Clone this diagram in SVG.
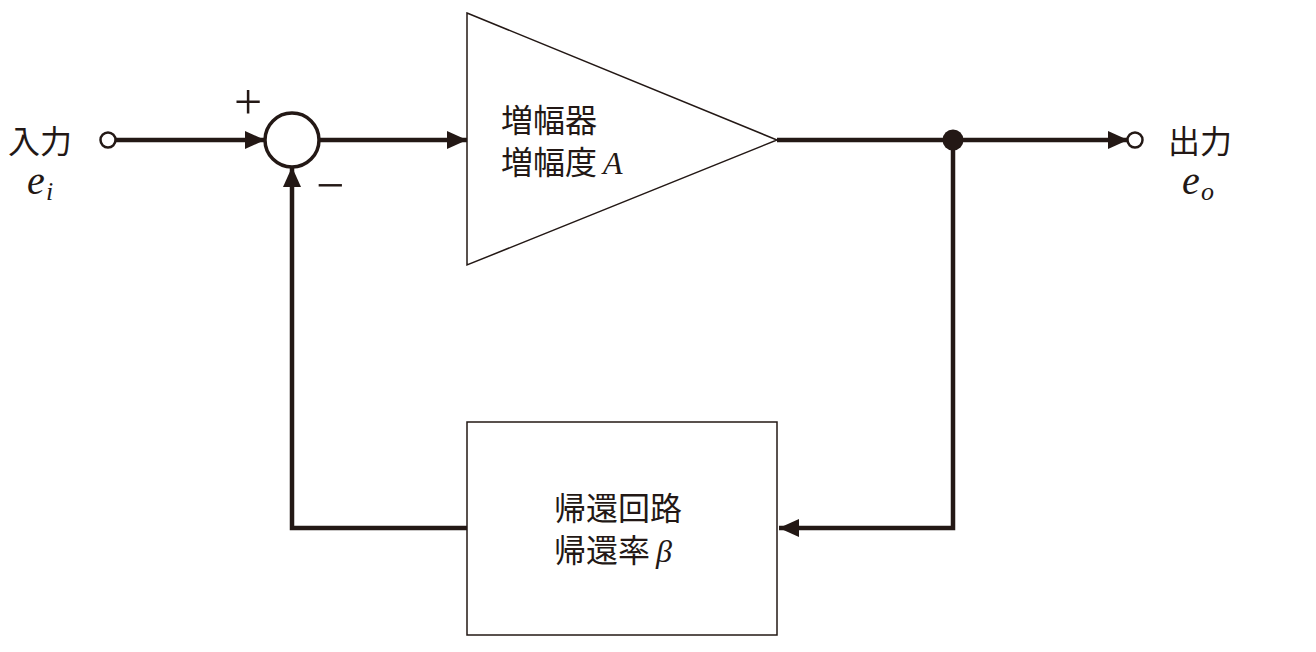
<svg xmlns="http://www.w3.org/2000/svg" width="1316" height="652" viewBox="0 0 1316 652">
<style>
.w{stroke:#231815;stroke-width:4.5;fill:none}
.thin{stroke:#231815;stroke-width:1.5;fill:#fff}
.t{font-family:"Liberation Serif","Noto Sans CJK JP",serif;font-size:32px;fill:#231815}
.m{font-family:"Liberation Serif",serif;font-style:italic;fill:#231815}
.s{font-family:"Liberation Serif",serif;font-size:50px;fill:#231815}
</style>
<defs>
<marker id="ah" markerWidth="20" markerHeight="18" refX="20" refY="9" orient="auto" markerUnits="userSpaceOnUse">
<path d="M0,0 L20,9 L0,18 Z" fill="#231815"/>
</marker>
</defs>
<rect width="1316" height="652" fill="#fff"/>
<g id="connectors">
<line class="w" x1="115" y1="140" x2="265" y2="140" marker-end="url(#ah)"/>
<line class="w" x1="319" y1="140" x2="467" y2="140" marker-end="url(#ah)"/>
<line class="w" x1="777" y1="140" x2="1128" y2="140" marker-end="url(#ah)"/>
<polyline class="w" points="953,140 953,528 779,528" marker-end="url(#ah)"/>
<polyline class="w" points="467,528 292,528 292,167" marker-end="url(#ah)"/>
</g>
<g id="input">
<circle cx="108" cy="140" r="7.5" fill="#fff" stroke="#231815" stroke-width="2.5"/>
<text class="t" x="8" y="153">入力</text>
<text class="m" x="27" y="194" font-size="40">e</text>
<text class="m" x="46" y="200" font-size="26">i</text>
</g>
<g id="sum">
<circle cx="292" cy="140" r="27" fill="#fff" stroke="#231815" stroke-width="3.5"/>
<text class="s" x="234" y="119">+</text>
<text class="s" x="316" y="202">−</text>
</g>
<g id="amplifier">
<polygon class="thin" points="467,13 777,140 467,265"/>
<text class="t" x="501" y="132">増幅器</text>
<text class="t" x="501" y="174">増幅度<tspan class="m" dx="6">A</tspan></text>
</g>
<g id="junction">
<circle cx="953" cy="140" r="10.5" fill="#231815"/>
</g>
<g id="output">
<circle cx="1135" cy="140" r="7.5" fill="#fff" stroke="#231815" stroke-width="2.5"/>
<text class="t" x="1168" y="153">出力</text>
<text class="m" x="1182" y="194" font-size="40">e</text>
<text class="m" x="1201" y="200" font-size="26">o</text>
</g>
<g id="feedback">
<rect class="thin" x="467" y="422" width="310" height="213"/>
<text class="t" x="554" y="520">帰還回路</text>
<text class="t" x="554" y="562">帰還率<tspan class="m" dx="6">β</tspan></text>
</g>
</svg>
